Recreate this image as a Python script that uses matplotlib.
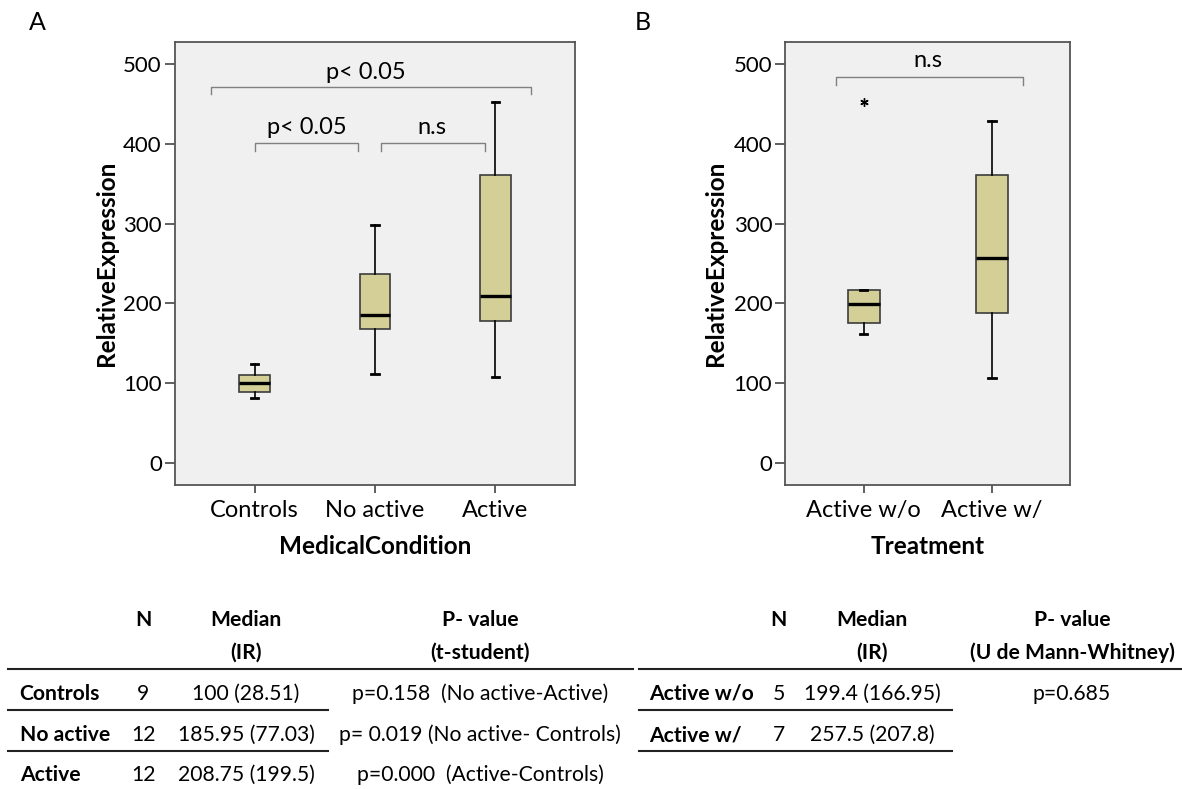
import matplotlib
matplotlib.use('Agg')
import matplotlib.pyplot as plt

plt.rcParams['font.family'] = ['Lato', 'DejaVu Sans']

# panel A: medical condition
groups_a = ['Controls', 'No active', 'Active']
whislo_a = [81, 111, 107.5]
q1_a = [89, 168, 178]
med_a = [100, 185.95, 208.75]
q3_a = [110, 237, 361]
whishi_a = [124, 298, 452]

# panel B: treatment
groups_b = ['Active w/o', 'Active w/']
whislo_b = [162, 107]
q1_b = [175, 188]
med_b = [199.4, 257.5]
q3_b = [217, 361]
whishi_b = [217, 428]
fliers_b = [[452], []]

yticks = [0, 100, 200, 300, 400, 500]

# brackets: (x0, x1, y_end, y_top, label, label_x, label_y)
brackets_a = [
    (0.636, 3.298, 462, 471, 'p< 0.05', 1.92, 489),
    (1.0, 1.86, 391, 401, 'p< 0.05', 1.43, 421),
    (2.05, 2.91, 391, 401, 'n.s', 2.47, 421),
]
brackets_b = [
    (0.784, 2.244, 474, 484, 'n.s', 1.505, 504),
]

# tables
tab_a_head1 = ['N', 'Median', 'P- value']
tab_a_head2 = ['', '(IR)', '(t-student)']
tab_a_rows = ['Controls', 'No active', 'Active']
tab_a_n = ['9', '12', '12']
tab_a_med = ['100 (28.51)', '185.95 (77.03)', '208.75 (199.5)']
tab_a_p = ['p=0.158  (No active-Active)', 'p= 0.019 (No active- Controls)',
           'p=0.000  (Active-Controls)']

tab_b_head1 = ['N', 'Median', 'P- value']
tab_b_head2 = ['', '(IR)', '(U de Mann-Whitney)']
tab_b_rows = ['Active w/o', 'Active w/']
tab_b_n = ['5', '7']
tab_b_med = ['199.4 (166.95)', '257.5 (207.8)']
tab_b_p = ['p=0.685', '']

BOX = '#d3cf97'
BG = '#f0f0f0'
W, H = 1182, 789


def make_stats(lo, q1, med, q3, hi, fl=None):
    out = []
    for i in range(len(med)):
        out.append({'whislo': lo[i], 'q1': q1[i], 'med': med[i], 'q3': q3[i],
                    'whishi': hi[i], 'fliers': fl[i] if fl else []})
    return out


def draw_panel(ax, stats, names, xlim, brackets, xlabel, ylab_x):
    ax.set_facecolor(BG)
    ax.bxp(stats, positions=range(1, len(names) + 1), widths=0.25,
           patch_artist=True, showfliers=True,
           boxprops=dict(facecolor=BOX, edgecolor='#3c3c3c', linewidth=1.2),
           medianprops=dict(color='black', linewidth=2.4),
           whiskerprops=dict(color='black', linewidth=1.2),
           capprops=dict(color='black', linewidth=2),
           capwidths=0.06,
           flierprops=dict(marker=(6, 2, 0), markersize=6, markeredgewidth=1,
                           markeredgecolor='black'))
    ax.set_xlim(*xlim)
    ax.set_ylim(-27.6, 527.2)
    ax.set_yticks(yticks)
    ax.set_xticks(range(1, len(names) + 1))
    ax.set_xticklabels(names)
    ax.tick_params(axis='y', length=7, width=1.2, color='#444444', pad=2.5,
                   labelsize=16)
    ax.tick_params(axis='x', length=6, width=1.2, color='#444444', pad=5,
                   labelsize=17)
    for s in ['top', 'right', 'bottom', 'left']:
        ax.spines[s].set_color('#555555')
        ax.spines[s].set_linewidth(1.3)
    for x0, x1, ye, yt, lab, lx, ly in brackets:
        ax.plot([x0, x0, x1, x1], [ye, yt, yt, ye], color='#808080', lw=1)
        ax.text(lx, ly, lab, ha='center', va='center', fontsize=17)
    ax.set_xlabel(xlabel, fontsize=17.5, fontweight='bold')
    ax.xaxis.set_label_coords(0.5, -0.112)
    ax.set_ylabel('RelativeExpression', fontsize=17.5, fontweight='bold')
    ax.yaxis.set_label_coords(ylab_x, 0.5)


fig = plt.figure(figsize=(W / 100, H / 100), dpi=100)

ax_a = fig.add_axes([175 / W, 1 - 485 / H, 400 / W, (485 - 42.3) / H])
draw_panel(ax_a, make_stats(whislo_a, q1_a, med_a, q3_a, whishi_a), groups_a,
           (0.34, 3.66), brackets_a, 'MedicalCondition', -0.142)

ax_b = fig.add_axes([785.4 / W, 1 - 485 / H, 284.6 / W, (485 - 42.3) / H])
draw_panel(ax_b, make_stats(whislo_b, q1_b, med_b, q3_b, whishi_b, fliers_b),
           groups_b, (0.39, 2.61), brackets_b, 'Treatment', -0.204)

fig.text(37 / W, 1 - 23 / H, 'A', fontsize=18, ha='center', va='center')
fig.text(643 / W, 1 - 23 / H, 'B', fontsize=18, ha='center', va='center')

# table layer in pixel coordinates
tab = fig.add_axes([0, 0, 1, 1])
tab.set_xlim(0, W)
tab.set_ylim(H, 0)
tab.axis('off')

FS = 15.2
head_y = [620, 652.5]
line_y = 669.3


def draw_table(label_x, col_x, head1, head2, rows, ns, meds, ps, row_y,
               head_line, row_line):
    for cx, h1, h2 in zip(col_x, head1, head2):
        tab.text(cx, head_y[0], h1, ha='center', va='center', fontsize=FS,
                 fontweight='bold')
        if h2:
            tab.text(cx, head_y[1], h2, ha='center', va='center', fontsize=FS,
                     fontweight='bold')
    tab.plot(head_line, [line_y, line_y], color='#222222', lw=1.5)
    for i, r in enumerate(rows):
        y = row_y[i]
        tab.text(label_x, y, r, ha='left', va='center', fontsize=FS,
                 fontweight='bold')
        tab.text(col_x[0], y, ns[i], ha='center', va='center', fontsize=FS)
        tab.text(col_x[1], y, meds[i], ha='center', va='center', fontsize=FS)
        if ps[i]:
            tab.text(col_x[2], y, ps[i], ha='center', va='center', fontsize=FS)
    for ly in row_line[1]:
        tab.plot(row_line[0], [ly, ly], color='#222222', lw=1.5)


draw_table(19.7, [143.4, 246, 480], tab_a_head1, tab_a_head2, tab_a_rows,
           tab_a_n, tab_a_med, tab_a_p, [693.5, 735, 775],
           [8, 633], ([8, 328], [710, 751]))
draw_table(649.5, [778.5, 872, 1072], tab_b_head1, tab_b_head2, tab_b_rows,
           tab_b_n, tab_b_med, tab_b_p, [693.5, 735],
           [638.7, 1182], ([638.7, 952], [710, 751]))

fig.savefig('out.png', dpi=100, facecolor='white')
